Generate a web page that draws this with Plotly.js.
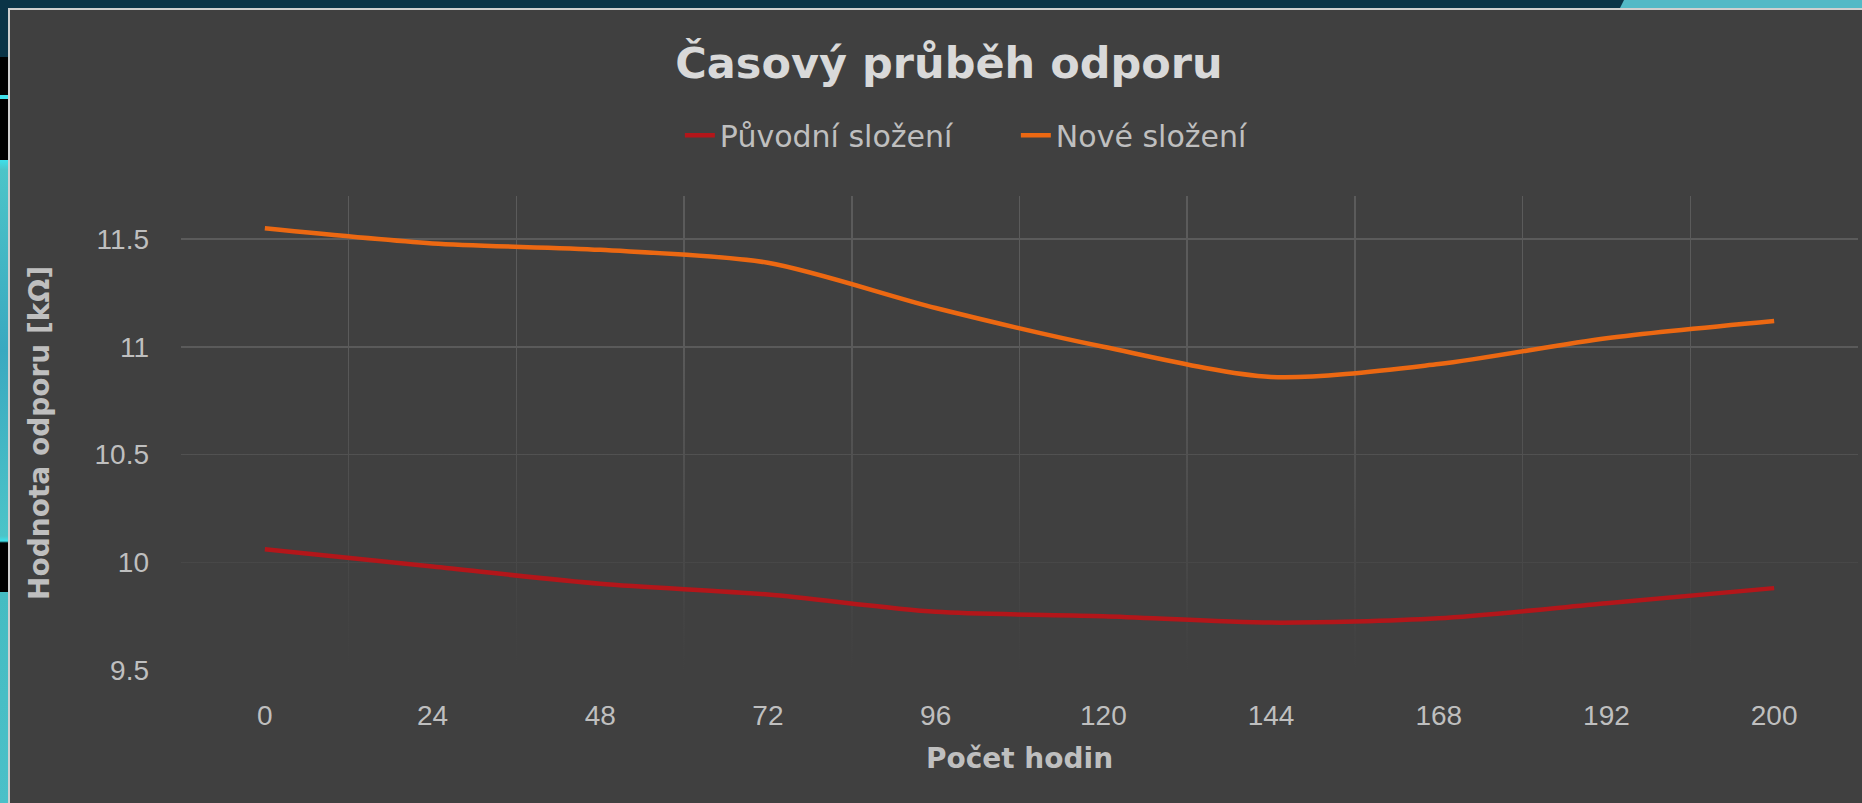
<!DOCTYPE html>
<html>
<head>
<meta charset="utf-8">
<script src="https://cdn.plot.ly/plotly-3.0.1.min.js"></script>
<style>
html,body{margin:0;padding:0;width:1862px;height:803px;overflow:hidden;background:#0b3447;}
#strip{position:absolute;left:0;top:0;width:8px;height:803px;
background:linear-gradient(to bottom,#0b3447 0,#0b3447 57px,#000 57px,#000 95px,#3ee0ea 95px,#3ee0ea 99px,#000 99px,#000 160px,#3ee0ea 160px,#4cc4c8 170px,#3aa9c0 350px,#4cc4c8 536px,#3ee0ea 541px,#000 543px,#000 592px,#45bcc2 592px,#4bc0c8 803px);}
#tr{position:absolute;left:1620px;top:0;width:242px;height:8px;background:#53b9c6;clip-path:polygon(4px 0,100% 0,100% 100%,0 100%);}
#frame{position:absolute;left:8px;top:8px;width:1854px;height:795px;background:#cfcfcf;}
#chart{position:absolute;left:10px;top:10px;width:1852px;height:793px;}
</style>
</head>
<body>
<div id="strip"></div>
<div id="tr"></div>
<div id="frame"></div>
<div id="chart"></div>
<script>
// ---- data ----
const hours = ['0', '24', '48', '72', '96', '120', '144', '168', '192', '200'];
const puvodniSlozeni = [10.06, 9.98, 9.90, 9.85, 9.77, 9.75, 9.72, 9.74, 9.81, 9.88];
const noveSlozeni = [11.55, 11.48, 11.45, 11.39, 11.18, 11.00, 10.86, 10.92, 11.04, 11.12];
const seriesNames = ['Původní složení', 'Nové složení'];
const yMin = 9.5, yMax = 11.7;

// ---- build ----
const idx = hours.map((h, i) => i);
const bounds = hours.map((h, i) => i - 0.5).concat([hours.length - 0.5]);
const xMin = -0.5, xMax = hours.length - 0.5;

const fade = {
  x: [xMin, xMax], y: [yMax, yMax], mode: 'none', fill: 'tozeroy',
  fillcolor: 'rgba(64,64,64,0)',
  fillgradient: {
    type: 'vertical',
    colorscale: [[0, 'rgba(64,64,64,1)'], [0.1, 'rgba(64,64,64,0.9)'], [0.7, 'rgba(64,64,64,0)'], [1, 'rgba(64,64,64,0)']],
    start: yMin, stop: yMax
  },
  showlegend: false, hoverinfo: 'skip'
};

const lineCommon = { shape: 'spline', smoothing: 0.8, width: 4.5 };
const traces = [
  fade,
  { x: idx, y: puvodniSlozeni, name: seriesNames[0], mode: 'lines',
    line: Object.assign({ color: '#b3161a' }, lineCommon) },
  { x: idx, y: noveSlozeni, name: seriesNames[1], mode: 'lines',
    line: Object.assign({ color: '#ec6812' }, lineCommon) }
];

const tickFont = { family: 'Liberation Sans, Arial, sans-serif', size: 28, color: '#bfbfbf' };
const axTitleFont = { family: 'DejaVu Sans, sans-serif', size: 28, color: '#bfbfbf', weight: 'bold' };

const layout = {
  width: 1852, height: 793,
  paper_bgcolor: '#404040', plot_bgcolor: '#404040',
  margin: { l: 171, r: 4, t: 186, b: 133 },
  font: { family: 'DejaVu Sans, sans-serif', color: '#bfbfbf' },
  title: {
    text: 'Časový průběh odporu',
    font: { family: 'DejaVu Sans, sans-serif', size: 43, color: '#d9d9d9', weight: 'bold' },
    xref: 'container', x: 0.507, xanchor: 'center',
    yref: 'container', y: 0.933, yanchor: 'middle'
  },
  showlegend: true,
  legend: {
    orientation: 'h', xref: 'container', yref: 'container',
    x: 0.3617, xanchor: 'left', y: 0.842, yanchor: 'middle',
    entrywidth: 291, entrywidthmode: 'pixels',
    font: { family: 'DejaVu Sans, sans-serif', size: 30, color: '#bfbfbf' },
    bgcolor: 'rgba(0,0,0,0)'
  },
  xaxis: {
    range: [xMin, xMax], tickmode: 'array', tickvals: idx, ticktext: hours,
    showgrid: false, zeroline: false, showline: false, ticks: '',
    ticklabelstandoff: 26, tickfont: tickFont,
    minor: { tickmode: 'array', tickvals: bounds, showgrid: true, gridcolor: '#5b5b5b', gridwidth: 1.5, ticks: '' },
    title: { text: 'Počet hodin', font: axTitleFont, standoff: 18 }
  },
  yaxis: {
    range: [yMin, yMax], dtick: 0.5, tick0: 0,
    showgrid: true, gridcolor: '#5b5b5b', gridwidth: 1.5,
    zeroline: false, showline: false, ticks: '',
    ticklabelstandoff: 31, tickfont: tickFont,
    title: { text: 'Hodnota odporu [kΩ]', font: axTitleFont, standoff: 36 }
  }
};

Plotly.newPlot('chart', traces, layout, { displayModeBar: false, staticPlot: true });
</script>
</body>
</html>
